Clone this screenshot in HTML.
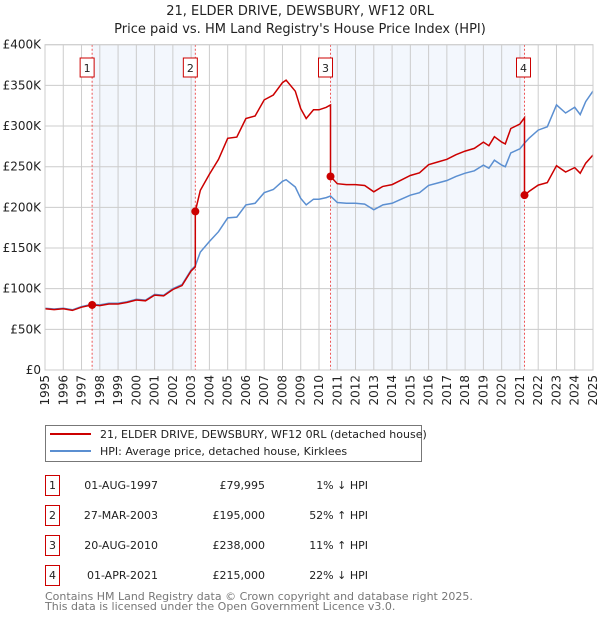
<!DOCTYPE html>
<html><head><meta charset="utf-8"><style>
body{margin:0;background:#fff;width:600px;height:620px;overflow:hidden;font-family:"DejaVu Sans","Liberation Sans",sans-serif;}
svg text{font-family:"DejaVu Sans","Liberation Sans",sans-serif;}
</style></head><body>
<svg id="c" width="600" height="620" xmlns="http://www.w3.org/2000/svg">
<text x="300" y="15" text-anchor="middle" font-size="13" fill="#222">21, ELDER DRIVE, DEWSBURY, WF12 0RL</text>
<text x="300" y="33" text-anchor="middle" font-size="13" fill="#222">Price paid vs. HM Land Registry's House Price Index (HPI)</text>
<g id="plot"></g>
<g>
<rect x="45.5" y="425.5" width="376" height="36" fill="#fff" stroke="#777"/>
<line x1="50" y1="434" x2="91" y2="434" stroke="#cc0000" stroke-width="2"/>
<text x="100" y="438" font-size="11" fill="#222">21, ELDER DRIVE, DEWSBURY, WF12 0RL (detached house)</text>
<line x1="50" y1="451" x2="91" y2="451" stroke="#5b8fd1" stroke-width="2"/>
<text x="100" y="455" font-size="11" fill="#222">HPI: Average price, detached house, Kirklees</text>
</g>
<g id="table"></g>
<text x="45" y="600" font-size="11" fill="#777">Contains HM Land Registry data © Crown copyright and database right 2025.</text>
<text x="45" y="610" font-size="11" fill="#777">This data is licensed under the Open Government Licence v3.0.</text>
</svg>
<script>
const hpiYears=[1995,1995.5,1996,1996.5,1997,1997.58,1998,1998.5,1999,1999.5,2000,2000.5,2001,2001.5,2002,2002.5,2003,2003.23,2003.5,2004,2004.5,2005,2005.5,2006,2006.5,2007,2007.5,2008,2008.2,2008.7,2009,2009.3,2009.7,2010,2010.4,2010.63,2011,2011.5,2012,2012.5,2013,2013.5,2014,2014.5,2015,2015.5,2016,2016.5,2017,2017.5,2018,2018.5,2019,2019.3,2019.6,2020,2020.2,2020.5,2021,2021.25,2021.5,2022,2022.5,2023,2023.5,2024,2024.3,2024.6,2025];
const hpiValues=[76,75,76,74,78,80.8,80,82,82,84,87,86,93,92,100,105,123,128,145,158,170,187,188,203,205,218,222,232,234,225,211,203,210,210,212,214,206,205,205,204,197,203,205,210,215,218,227,230,233,238,242,245,252,248,258,252,250,267,272,279,285,295,299,326,316,323,314,330,343];
const saleDates=[1997.58,2003.23,2010.63,2021.25];
const salePrices=[79.995,195,238,215];
const saleLabels=["1","2","3","4"];
const saleDateText=["01-AUG-1997","27-MAR-2003","20-AUG-2010","01-APR-2021"];
const salePriceText=["£79,995","£195,000","£238,000","£215,000"];
const saleHpiText=["1% ↓ HPI","52% ↑ HPI","11% ↑ HPI","22% ↓ HPI"];
const yTicks=[0,50,100,150,200,250,300,350,400];
const yTickLabels=["£0","£50K","£100K","£150K","£200K","£250K","£300K","£350K","£400K"];

const NS="http://www.w3.org/2000/svg";
const X0=45,X1=593,Y0=370,Y1=44.7;
const xs=y=>X0+(y-1995)/30*(X1-X0);
const ys=v=>Y0-v/400*(Y0-Y1);
function mk(tag,attrs,parent){const e=document.createElementNS(NS,tag);for(const k in attrs)e.setAttribute(k,attrs[k]);parent.appendChild(e);return e;}
function hpiAt(t){for(let i=1;i<hpiYears.length;i++){if(t<=hpiYears[i]){const a=hpiYears[i-1],b=hpiYears[i];const f=(t-a)/(b-a);return hpiValues[i-1]+f*(hpiValues[i]-hpiValues[i-1]);}}return hpiValues[hpiValues.length-1];}
const g=document.getElementById('plot');
for(let k=0;k<4;k+=2){const r=mk('rect',{x:xs(saleDates[k]),y:Y1,width:xs(saleDates[k+1])-xs(saleDates[k]),height:Y0-Y1,fill:'#eef3fc',opacity:0.7},g);

}
for(let yr=1995;yr<=2025;yr++){const l=mk('line',{x1:xs(yr),x2:xs(yr),y1:Y1,y2:Y0,stroke:'#ccc','stroke-width':1},g);


const t=mk('text',{transform:`translate(${xs(yr)+4},${Y0+5}) rotate(-90)`,'text-anchor':'end','font-size':'12',fill:'#222'},g);t.textContent=yr;

}
yTicks.forEach((v,i)=>{const l=mk('line',{x1:X0,x2:X1,y1:ys(v),y2:ys(v),stroke:'#ccc','stroke-width':1},g);


const t=mk('text',{x:X0-4,y:ys(v)+4,'text-anchor':'end','font-size':'12',fill:'#222'},g);t.textContent=yTickLabels[i];

});
saleDates.forEach((d,i)=>{const l=mk('line',{x1:xs(d),x2:xs(d),y1:Y1,y2:Y0,stroke:'#e55','stroke-width':1,'stroke-dasharray':'2,2'},g);


const bx=xs(d)-11-(i==3?-4:0);
const r=mk('rect',{x:bx-1,y:58,width:14,height:19,fill:'#fff',stroke:'#cc0000'},g);


const t=mk('text',{x:bx+6,y:72,'text-anchor':'middle','font-size':'11',fill:'#222'},g);t.textContent=saleLabels[i];

});
let p='';hpiYears.forEach((y,i)=>{p+=(i?'L':'M')+xs(y).toFixed(1)+','+ys(hpiValues[i]).toFixed(1);});
const hl=mk('path',{d:p,fill:'none',stroke:'#5b8fd1','stroke-width':1.5},g);


let rp='';
const bounds=[1995].concat(saleDates.slice(1)).concat([2025]);
for(let s=0;s<4;s++){const ratio=salePrices[s]/hpiAt(saleDates[s]);
const pts=[bounds[s]].concat(hpiYears.filter(y=>y>bounds[s]&&y<bounds[s+1])).concat([bounds[s+1]]);
pts.forEach((y,j)=>{rp+=((s===0&&j===0)?'M':'L')+xs(y).toFixed(1)+','+ys(hpiAt(y)*ratio).toFixed(1);});}
const rl=mk('path',{d:rp,fill:'none',stroke:'#cc0000','stroke-width':1.5},g);


saleDates.forEach((d,i)=>{const c=mk('circle',{cx:xs(d),cy:ys(salePrices[i]),r:4,fill:'#cc0000'},g);

});
const fr=mk('rect',{x:X0,y:Y1,width:X1-X0,height:Y0-Y1,fill:'none',stroke:'#ccc'},g);


const tb=document.getElementById('table');
saleLabels.forEach((lab,i)=>{const y=485+i*30;
const r=mk('rect',{x:45.5,y:y-9.5,width:14,height:20,fill:'#fff',stroke:'#cc0000'},tb);


const cells=[[52.5,lab,'middle'],[158,saleDateText[i],'end'],[265,salePriceText[i],'end'],[368,saleHpiText[i],'end']];
cells.forEach(c=>{const t=mk('text',{x:c[0],y:y+4,'text-anchor':c[2],'font-size':'11',fill:'#222'},tb);t.textContent=c[1];

});});
</script>
</body></html>
